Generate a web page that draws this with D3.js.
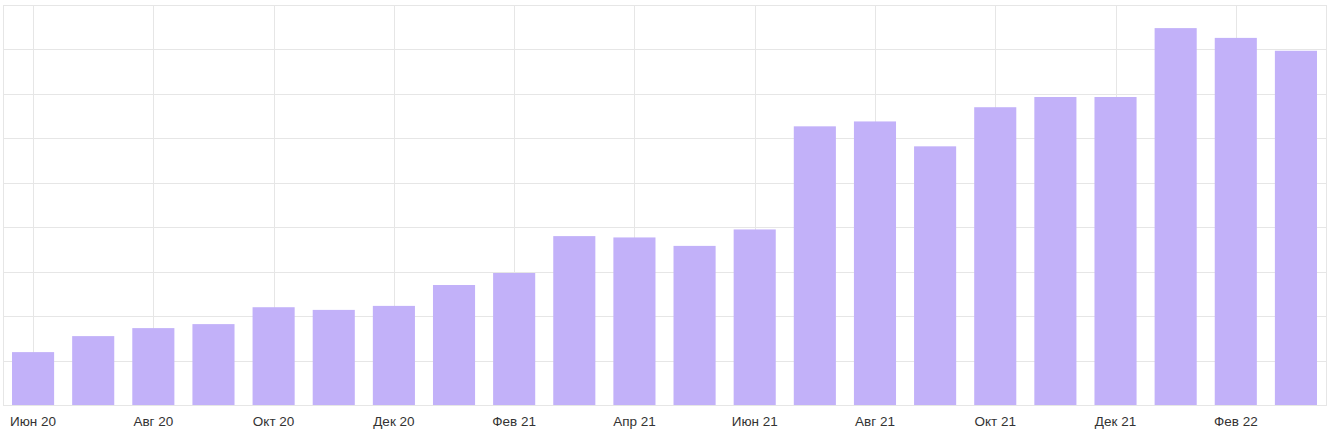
<!DOCTYPE html>
<html>
<head>
<meta charset="utf-8">
<script src="https://cdn.jsdelivr.net/npm/d3@7"></script>
<style>
  body { margin: 0; background: #fff; }
  svg { display: block; }
</style>
</head>
<body>
<svg></svg>
<script>
const width = 1340;
const height = 434;

// monthly values, Jun 2020 .. Mar 2022 (no y scale shown, units arbitrary)
const months = ['Июн 20', 'Июл 20', 'Авг 20', 'Сен 20', 'Окт 20', 'Ноя 20', 'Дек 20',
  'Янв 21', 'Фев 21', 'Мар 21', 'Апр 21', 'Май 21', 'Июн 21', 'Июл 21', 'Авг 21',
  'Сен 21', 'Окт 21', 'Ноя 21', 'Дек 21', 'Янв 22', 'Фев 22', 'Мар 22'];
const values = [11.9, 15.5, 17.3, 18.2, 22.0, 21.4, 22.3, 27.0, 29.7, 38.0, 37.7,
  35.8, 39.5, 62.7, 63.8, 58.2, 67.0, 69.3, 69.3, 84.8, 82.6, 79.7];
const yTicks = [0, 10, 20, 30, 40, 50, 60, 70, 80, 90];
const shownLabels = ['Июн 20', 'Авг 20', 'Окт 20', 'Дек 20', 'Фев 21', 'Апр 21',
  'Июн 21', 'Авг 21', 'Окт 21', 'Дек 21', 'Фев 22'];

const margin = {top: 5, right: 14, bottom: 29, left: 3};

const svg = d3.select('svg')
    .attr('width', width).attr('height', height);

const x = d3.scaleBand()
    .domain(months)
    .range([margin.left, width - margin.right])
    .paddingInner(0.3)
    .paddingOuter(0.15);

const y = d3.scaleLinear()
    .domain([0, 90])
    .range([height - margin.bottom, margin.top]);

const grid = svg.append('g').attr('class', 'grid');

// horizontal grid
grid.selectAll('.hline')
    .data(yTicks)
    .enter().append('line')
    .attr('class', 'hline')
    .attr('x1', margin.left)
    .attr('x2', width - margin.right)
    .attr('y1', d => Math.round(y(d)) + 0.5)
    .attr('y2', d => Math.round(y(d)) + 0.5)
    .style('stroke', '#e6e6e6');

// vertical grid at labelled months
grid.selectAll('.vline')
    .data(shownLabels)
    .enter().append('line')
    .attr('class', 'vline')
    .attr('x1', d => Math.round(x(d) + x.bandwidth() / 2) + 0.5)
    .attr('x2', d => Math.round(x(d) + x.bandwidth() / 2) + 0.5)
    .attr('y1', y(90))
    .attr('y2', y(0))
    .style('stroke', '#e6e6e6');

// frame
grid.append('rect')
    .attr('x', margin.left + 0.5)
    .attr('y', y(90) + 0.5)
    .attr('width', width - margin.right - margin.left)
    .attr('height', y(0) - y(90))
    .style('fill', 'none')
    .style('stroke', '#e6e6e6');

svg.append('g')
    .selectAll('rect')
    .data(values)
    .enter().append('rect')
    .attr('x', (d, i) => x(months[i]))
    .attr('y', d => y(d))
    .attr('width', x.bandwidth())
    .attr('height', d => y(0) - y(d))
    .style('fill', '#c2b1f9');

const xAxis = d3.axisBottom(x)
    .tickValues(shownLabels)
    .tickSize(0)
    .tickPadding(11);

svg.append('g')
    .attr('transform', `translate(0,${y(0)})`)
    .call(xAxis)
    .call(g => g.select('.domain').remove())
    .selectAll('text')
    .style('font-family', 'Arial, "Liberation Sans", sans-serif')
    .style('font-size', '13.5px')
    .style('fill', '#333');
</script>
</body>
</html>
